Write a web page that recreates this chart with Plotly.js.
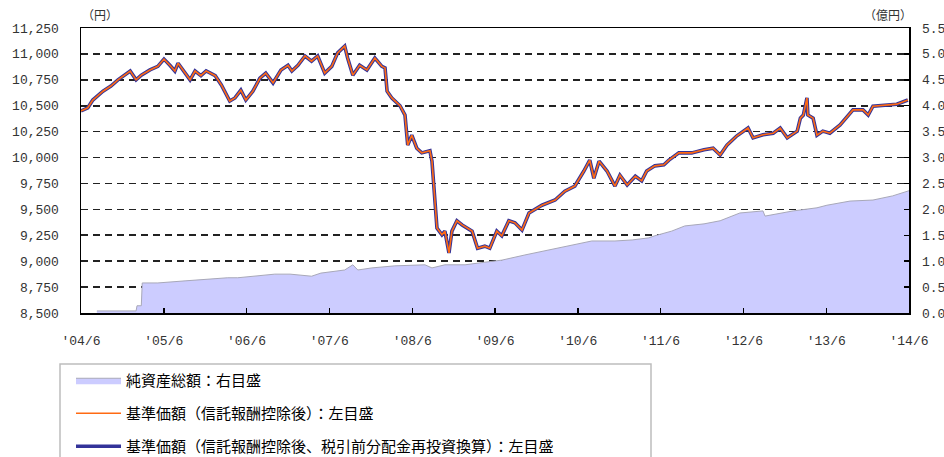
<!DOCTYPE html>
<html>
<head>
<meta charset="utf-8">
<script src="https://cdn.plot.ly/plotly-3.0.1.min.js"></script>
<style>html,body{margin:0;padding:0;background:#fff;}#chart{width:944px;height:457px;}</style>
</head>
<body>
<div id="chart"></div>
<script>
// 基準価額 (円) — dates and values
const navDates = [
  "2004-06-01","2004-07-01","2004-07-23","2004-09-06","2004-10-11","2004-11-11","2005-01-04","2005-01-30",
  "2005-02-22","2005-04-01","2005-05-06","2005-06-02","2005-06-28","2005-07-20","2005-08-03","2005-09-03",
  "2005-09-25","2005-10-17","2005-11-12","2005-12-05","2006-01-14","2006-02-10","2006-03-19","2006-04-11",
  "2006-05-07","2006-05-29","2006-06-29","2006-07-30","2006-08-25","2006-09-26","2006-10-31","2006-12-01",
  "2006-12-18","2007-01-14","2007-02-14","2007-03-15","2007-04-11","2007-05-12","2007-06-12","2007-07-08",
  "2007-08-08","2007-08-21","2007-09-13","2007-10-13","2007-11-14","2007-12-19","2008-01-19","2008-02-02",
  "2008-02-11","2008-03-03","2008-04-08","2008-04-30","2008-05-12","2008-05-30","2008-06-21","2008-07-13",
  "2008-08-18","2008-08-27","2008-09-09","2008-09-18","2008-10-10","2008-10-23","2008-11-10","2008-11-23",
  "2008-12-15","2009-01-07","2009-02-20","2009-03-16","2009-04-17","2009-05-09","2009-06-09","2009-07-01",
  "2009-08-01","2009-08-28","2009-09-28","2009-10-29","2009-12-25","2010-02-21","2010-04-05","2010-05-19",
  "2010-06-28","2010-07-24","2010-08-11","2010-09-03","2010-10-08","2010-11-12","2010-12-04","2011-01-05",
  "2011-02-10","2011-03-10","2011-04-01","2011-05-07","2011-06-16","2011-07-08","2011-08-21","2011-10-17",
  "2011-12-10","2012-01-19","2012-02-19","2012-03-20","2012-05-03","2012-06-21","2012-07-13","2012-08-26",
  "2012-10-10","2012-11-10","2012-12-11","2013-01-24","2013-02-07","2013-02-20","2013-03-08","2013-03-12",
  "2013-04-04","2013-04-21","2013-05-17","2013-06-17","2013-08-01","2013-09-01","2013-09-27","2013-11-10",
  "2013-12-03","2013-12-24","2014-02-07","2014-04-08","2014-05-27"
];
const navValues = [
  10450,10480,10555,10640,10690,10750,10835,10750,
  10795,10845,10880,10950,10890,10835,10910,10815,
  10750,10835,10790,10835,10790,10700,10545,10575,
  10650,10555,10640,10765,10815,10720,10845,10890,
  10835,10890,10980,10930,10980,10815,10880,11010,
  11075,10960,10795,10890,10845,10960,10880,10865,
  10640,10575,10500,10410,10120,10215,10090,10045,
  10065,9965,9580,9320,9255,9290,9080,9290,
  9390,9350,9290,9125,9145,9125,9290,9245,
  9390,9370,9300,9465,9540,9590,9675,9725,
  9870,9975,9800,9965,9870,9725,9830,9735,
  9820,9775,9870,9920,9930,9975,10045,10045,
  10075,10090,10025,10120,10210,10285,10190,10220,
  10235,10285,10190,10255,10380,10410,10575,10410,
  10380,10215,10255,10235,10315,10400,10460,10460,
  10410,10495,10505,10515,10555
];
// 分配金再投資換算 — identical to the NAV in the picture
const navReinvestValues = navValues.slice();

// 純資産総額 (億円)
const assetDates = [
  "2004-08-10","2005-01-30","2005-02-03","2005-02-22","2005-02-26","2005-05-06","2005-09-03","2005-10-29",
  "2006-03-10","2006-04-23","2006-07-30","2006-10-04","2006-12-10","2007-03-15","2007-04-25","2007-08-08",
  "2007-09-13","2007-10-05","2007-12-06","2008-03-16","2008-07-27","2008-08-27","2008-10-23","2009-01-20",
  "2009-04-17","2009-06-09","2009-07-01","2009-10-11","2010-03-09","2010-08-02","2010-11-12","2011-01-27",
  "2011-04-10","2011-05-07","2011-07-20","2011-09-16","2011-12-10","2012-02-19","2012-05-16","2012-08-26",
  "2012-09-04","2013-01-06","2013-04-21","2013-06-04","2013-09-14","2013-12-24","2014-03-21","2014-06-01"
];
const assetValues = [
  0.04,0.04,0.14,0.14,0.58,0.58,0.62,0.64,
  0.68,0.68,0.73,0.75,0.75,0.71,0.77,0.83,
  0.93,0.83,0.87,0.91,0.93,0.87,0.93,0.93,
  0.98,1.00,1.02,1.12,1.25,1.39,1.39,1.41,
  1.45,1.49,1.58,1.68,1.72,1.78,1.93,1.97,
  1.87,1.97,2.03,2.08,2.16,2.18,2.26,2.36
];

const tickDates = ["2004-06-01","2005-06-01","2006-06-01","2007-06-01","2008-06-01","2009-06-01","2010-06-01","2011-06-01","2012-06-01","2013-06-01","2014-06-01"];
const tickLabels = ["'04/6","'05/6","'06/6","'07/6","'08/6","'09/6","'10/6","'11/6","'12/6","'13/6","'14/6"];
const leftTicks = [8500,8750,9000,9250,9500,9750,10000,10250,10500,10750,11000,11250];
const rightTicks = [0,0.5,1,1.5,2,2.5,3,3.5,4,4.5,5,5.5];

const seriesNames = ["純資産総額：右目盛","基準価額（信託報酬控除後）：左目盛","基準価額（信託報酬控除後、税引前分配金再投資換算）：左目盛"];

const FONT = "'Noto Sans CJK JP', 'Noto Sans', sans-serif";
const MONO = "'Liberation Mono', 'DejaVu Sans Mono', monospace";

const traces = [
  {
    x: assetDates, y: assetValues, yaxis: "y2", type: "scatter", mode: "lines",
    fill: "tozeroy", fillcolor: "#CCCCFF", line: {color: "#A8A8B8", width: 1},
    name: seriesNames[0], legendrank: 1, legendgroup: "a", hoverinfo: "skip"
  },
  {
    x: navDates, y: navReinvestValues, yaxis: "y", type: "scatter", mode: "lines",
    line: {color: "#333399", width: 3.6},
    name: seriesNames[2], legendrank: 3, legendgroup: "c"
  },
  {
    x: navDates, y: navValues, yaxis: "y", type: "scatter", mode: "lines",
    line: {color: "#FF6A13", width: 1.6},
    name: seriesNames[1], legendrank: 2, legendgroup: "b"
  }
];

const layout = {
  width: 944, height: 457,
  margin: {l: 81, r: 35, t: 28, b: 144, autoexpand: false},
  paper_bgcolor: "#fff", plot_bgcolor: "#fff",
  font: {family: FONT, color: "#222", size: 11},
  showlegend: true,
  legend: {
    xref: "container", yref: "container",
    x: 71 / 944, xanchor: "left", y: 1 - 364 / 457, yanchor: "top",
    font: {family: FONT, size: 15, color: "#000"},
    bgcolor: "rgba(0,0,0,0)", borderwidth: 0,
    tracegroupgap: 10.5, itemwidth: 45, traceorder: "grouped"
  },
  xaxis: {
    type: "date", range: ["2004-06-01","2014-06-01"],
    tickmode: "array", tickvals: tickDates, ticktext: tickLabels,
    ticks: "inside", ticklen: 5, tickwidth: 1.5, tickcolor: "#000",
    showline: true, linecolor: "#000", linewidth: 1.5, mirror: true,
    showgrid: false, zeroline: false,
    tickfont: {family: MONO, size: 13, color: "#333"},
    ticklabelstandoff: 15
  },
  yaxis: {
    range: [8500, 11250], tickmode: "array", tickvals: leftTicks, tickformat: ",",
    showline: true, linecolor: "#000", linewidth: 1.5, mirror: true,
    showgrid: true, gridcolor: "#222", gridwidth: 1.6, griddash: "7px,5px",
    ticks: "", zeroline: false,
    tickfont: {family: MONO, size: 13, color: "#333"},
    ticklabelstandoff: 18
  },
  yaxis2: {
    range: [0, 5.5], overlaying: "y", side: "right",
    tickmode: "array", tickvals: rightTicks, tickformat: ".1f",
    ticks: "inside", ticklen: 5, tickwidth: 1.5, tickcolor: "#000",
    showgrid: false, zeroline: false, showline: false,
    tickfont: {family: MONO, size: 13, color: "#333"},
    ticklabelstandoff: 12
  },
  shapes: [
    {type: "rect", xref: "paper", yref: "paper",
     x0: (60 - 81) / 828, x1: (651 - 81) / 828,
     y0: (313 - 364) / 285, y1: (313 - 470) / 285,
     line: {color: "#BDBDBD", width: 1.5}, fillcolor: "rgba(0,0,0,0)", layer: "below"}
  ],
  annotations: [
    {text: "（円）", xref: "paper", yref: "paper", x: (80 - 81) / 828, y: (313 - 14) / 285,
     xanchor: "left", yanchor: "middle", showarrow: false, font: {family: FONT, size: 12, color: "#333"}},
    {text: "（億円）", xref: "paper", yref: "paper", x: (914 - 81) / 828, y: (313 - 14) / 285,
     xanchor: "right", yanchor: "middle", showarrow: false, font: {family: FONT, size: 12, color: "#333"}}
  ]
};

Plotly.newPlot("chart", traces, layout, {displayModeBar: false, staticPlot: true});
</script>
</body>
</html>
